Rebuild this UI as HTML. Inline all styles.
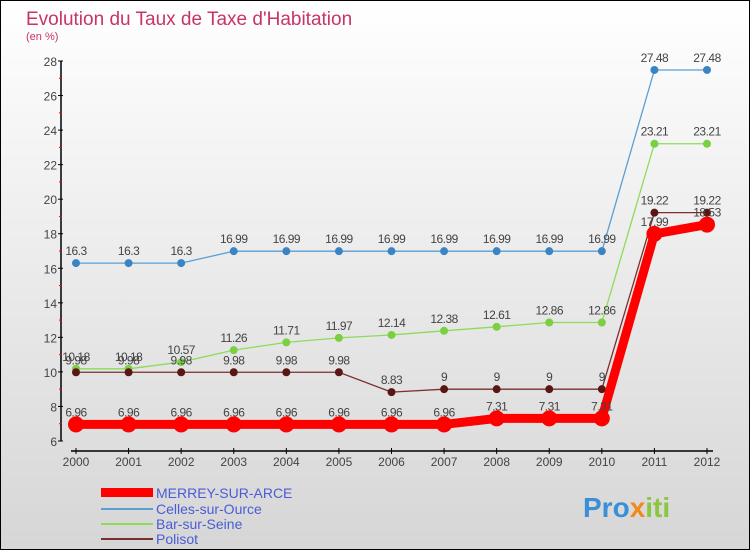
<!DOCTYPE html>
<html><head><meta charset="utf-8"><style>
body{margin:0}
#wrap{width:748px;height:548px;border:1px solid #000;position:relative;background:linear-gradient(#fff,#d6d6d6);font-family:"Liberation Sans",sans-serif;overflow:hidden}
</style></head><body>
<div id="wrap">
<svg id="svg" width="748" height="548" xmlns="http://www.w3.org/2000/svg">
<text x="25" y="24" font-size="19" fill="#c8336a">Evolution du Taux de Taxe d'Habitation</text>
<text x="25" y="39" font-size="11" fill="#c8336a">(en %)</text>
<g id="axes"></g><g id="series"></g>
<g>
<rect x="100" y="487" width="52" height="9" fill="#f00"/>
<text x="155" y="497" font-size="14" fill="#4a5cd6">MERREY-SUR-ARCE</text>
<line x1="100" y1="508" x2="152" y2="508" stroke="#5a9fd4" stroke-width="2"/>
<text x="155" y="513" font-size="14" fill="#4a5cd6">Celles-sur-Ource</text>
<line x1="100" y1="523" x2="152" y2="523" stroke="#8ddb5a" stroke-width="2"/>
<text x="155" y="528" font-size="14" fill="#4a5cd6">Bar-sur-Seine</text>
<line x1="100" y1="538" x2="152" y2="538" stroke="#7a3030" stroke-width="2"/>
<text x="155" y="543" font-size="14" fill="#4a5cd6">Polisot</text>
</g>
<text x="582" y="516" font-size="28" font-weight="bold" fill="#3a8fd8">Pro<tspan fill="#f28a1a">x</tspan><tspan fill="#8ac640">iti</tspan></text>
</svg></div>
<script>
const years=[2000,2001,2002,2003,2004,2005,2006,2007,2008,2009,2010,2011,2012];
const merrey=[6.96,6.96,6.96,6.96,6.96,6.96,6.96,6.96,7.31,7.31,7.31,17.99,18.53];
const celles=[16.3,16.3,16.3,16.99,16.99,16.99,16.99,16.99,16.99,16.99,16.99,27.48,27.48];
const barSeine=[10.18,10.18,10.57,11.26,11.71,11.97,12.14,12.38,12.61,12.86,12.86,23.21,23.21];
const polisot=[9.98,9.98,9.98,9.98,9.98,9.98,8.83,9,9,9,9,19.22,19.22];
const yTicks=[6,8,10,12,14,16,18,20,22,24,26,28];
const NS="http://www.w3.org/2000/svg";
const X=i=>75+i*(706-75)/12, Y=v=>440-(v-6)*380/22;
function mk(t,a,p){const e=document.createElementNS(NS,t);for(const k in a)e.setAttribute(k,a[k]);p.appendChild(e);return e;}
const ax=document.getElementById('axes'), sg=document.getElementById('series');
let l=mk('line',{x1:60,y1:60,x2:60,y2:440,stroke:'#000','stroke-width':1.5},ax);

l=mk('line',{x1:70,y1:450,x2:712,y2:450,stroke:'#000','stroke-width':1.5},ax);

yTicks.forEach(v=>{const y=Y(v);
 mk('line',{x1:57,y1:y,x2:62,y2:y,stroke:'#000'},ax);
 if(v<28) mk('line',{x1:58,y1:Y(v+1),x2:61,y2:Y(v+1),stroke:'#f00'},ax);
 const t=mk('text',{x:56,y:y+5,'font-size':12,fill:'#444','text-anchor':'end'},ax);t.textContent=v;
 });
years.forEach((yr,i)=>{mk('line',{x1:X(i),y1:447,x2:X(i),y2:453,stroke:'#000'},ax);
 const t=mk('text',{x:X(i),y:465,'font-size':12,fill:'#444','text-anchor':'middle'},ax);t.textContent=yr;
 });
function series(d,col,w,r,name,dot){
 const p=mk('polyline',{points:d.map((v,i)=>X(i)+','+Y(v)).join(' '),fill:'none',stroke:col,'stroke-width':w},sg);
 
 d.forEach((v,i)=>{const c=mk('circle',{cx:X(i),cy:Y(v),r:r,fill:dot||col},sg);
  
  const t=mk('text',{x:X(i),y:Y(v)-8,'font-size':12,fill:'#444','text-anchor':'middle','letter-spacing':'-0.5'},sg);t.textContent=v;
  });
}
series(celles,'#5a9fd4',1.3,4,'celles','#3a84c4');
series(barSeine,'#8ddb5a',1.3,4,'bar-sur-seine','#7ad040');
series(polisot,'#7a3030',1.3,4,'polisot','#5a1515');
series(merrey,'#f00',9,8,'merrey');
</script>
</body></html>
